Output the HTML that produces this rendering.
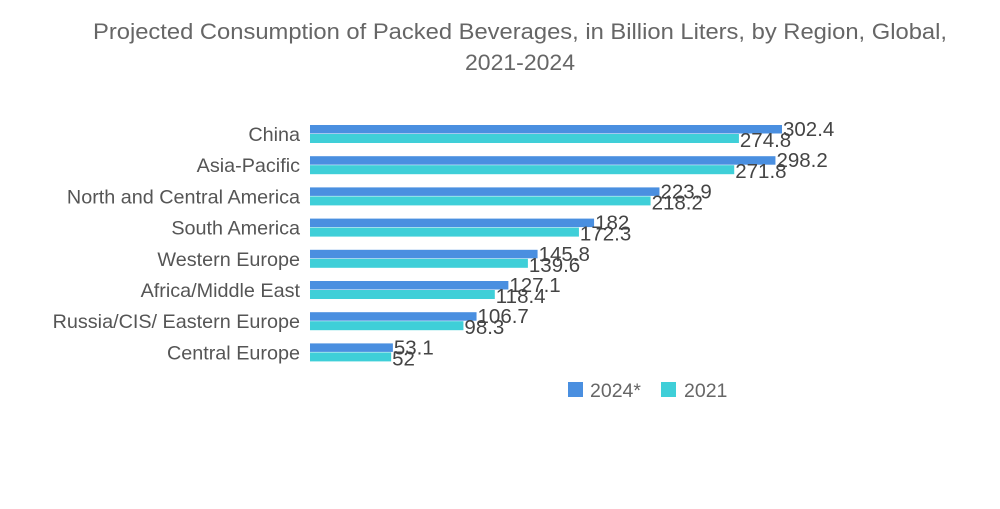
<!DOCTYPE html>
<html><head><meta charset="utf-8"><style>
body{margin:0;background:#fff;width:1000px;height:504px;overflow:hidden;font-family:"Liberation Sans",sans-serif}
</style></head><body>
<svg width="1000" height="504" id="c">
<text x="520" y="39" text-anchor="middle" font-size="22" fill="#666" textLength="854" lengthAdjust="spacingAndGlyphs">Projected Consumption of Packed Beverages, in Billion Liters, by Region, Global,</text>
<text x="520" y="70" text-anchor="middle" font-size="22" fill="#666" textLength="110" lengthAdjust="spacingAndGlyphs">2021-2024</text>
<g id="bars"></g>
<rect x="568" y="382" width="15" height="15" fill="#4a8fe0"/>
<text x="590" y="397" font-size="19.5" fill="#666">2024*</text>
<rect x="661" y="382" width="15" height="15" fill="#3fcfd8"/>
<text x="684" y="397" font-size="19.5" fill="#666">2021</text>
</svg>
<script>
const categories=["China","Asia-Pacific","North and Central America","South America","Western Europe","Africa/Middle East","Russia/CIS/ Eastern Europe","Central Europe"];
const values2024=[302.4,298.2,223.9,182,145.8,127.1,106.7,53.1];
const values2021=[274.8,271.8,218.2,172.3,139.6,118.4,98.3,52];
const labels2024=["302.4","298.2","223.9","182","145.8","127.1","106.7","53.1"];
const labels2021=["274.8","271.8","218.2","172.3","139.6","118.4","98.3","52"];
const x0=310, k=(782-310)/302.4;
const xs=v=>x0+v*k;
const ys=i=>134+i*31.2;
const g=document.getElementById('bars');
const NS="http://www.w3.org/2000/svg";
function mk(t,a){const e=document.createElementNS(NS,t);for(const n in a)e.setAttribute(n,a[n]);g.appendChild(e);return e;}
categories.forEach((c,i)=>{
  const y=ys(i);
  const l=mk('text',{x:300,y:y+7,'text-anchor':'end','font-size':19.8,fill:'#555'});l.textContent=c;
  
  
  const b1=mk('rect',{x:x0,y:y-9,width:xs(values2024[i])-x0,height:8.5,fill:'#4a8fe0'});
  
  
  const b2=mk('rect',{x:x0,y:y,width:xs(values2021[i])-x0,height:9,fill:'#3fcfd8'});
  
  
  const t1=mk('text',{x:xs(values2024[i])+1,y:y+2,'font-size':20.5,fill:'#444'});t1.textContent=labels2024[i];
  
  
  const t2=mk('text',{x:xs(values2021[i])+1,y:y+13,'font-size':20.5,fill:'#444'});t2.textContent=labels2021[i];
  
  
});
</script>
</body></html>
